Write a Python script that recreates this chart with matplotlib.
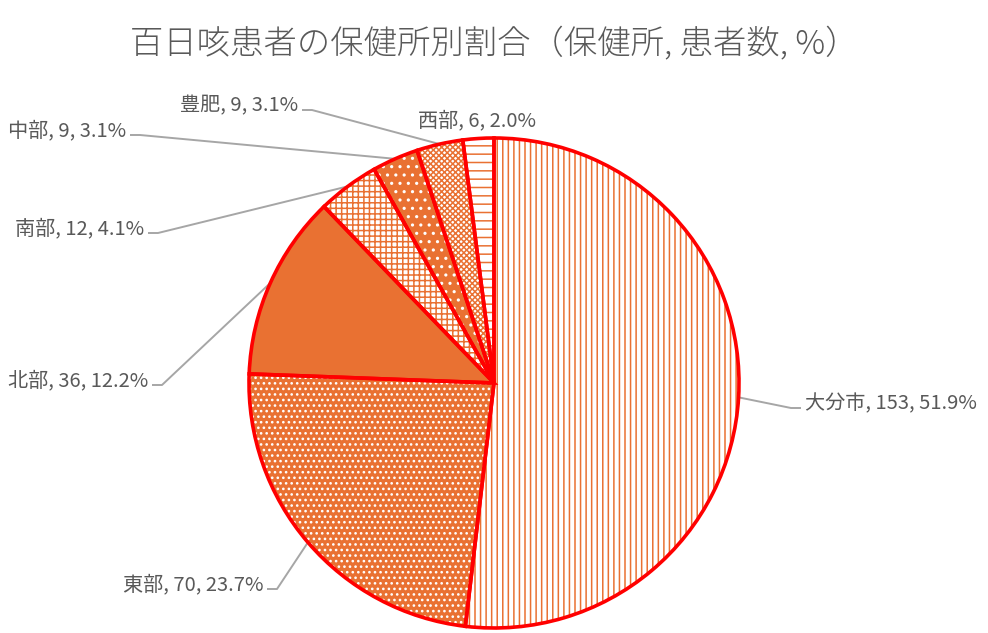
import matplotlib

matplotlib.use("Agg")
import matplotlib.pyplot as plt
import numpy as np

plt.rcParams["font.family"] = ["Noto Sans CJK JP", "DejaVu Sans"]
plt.rcParams["hatch.linewidth"] = 1.1

title = "百日咳患者の保健所別割合（保健所, 患者数, %）"
centers = ["大分市", "東部", "北部", "南部", "中部", "豊肥", "西部"]
counts = [153, 70, 36, 12, 9, 9, 6]

ORANGE = "#E97132"
RED = "#FF0000"
GRAY_TXT = "#595959"
GRAY_LINE = "#A6A6A6"

# fill colour, hatch colour, hatch pattern per slice
faces = ["white", ORANGE, ORANGE, "white", ORANGE, "white", "white"]
hatch_cols = [ORANGE, "white", ORANGE, ORANGE, "white", ORANGE, ORANGE]
hatches = ["|||", "...", "", "+++", "..", "xxxxxx", "--"]

# label anchor (pixel coords, y down), alignment, leader?
label_pos = [(805, 404), (263, 585), (148, 381), (144, 229), (126, 131), (298, 106), (477, 121)]
label_ha = ["left", "right", "right", "right", "right", "right", "center"]
has_leader = [True, True, True, True, True, True, False]

W, H = 988, 633
cx, cy, R = 494, H - 383, 245

fig = plt.figure(figsize=(W / 100, H / 100), dpi=100)
ax = fig.add_axes([0, 0, 1, 1])

wedges, _ = ax.pie(counts, startangle=90, counterclock=False, center=(cx, cy),
                   radius=R, colors=faces, wedgeprops=dict(linewidth=0))
for w, hc, hp in zip(wedges, hatch_cols, hatches):
    w.set_edgecolor(hc)
    w.set_hatch(hp)
    w.set_linewidth(0)

ax.pie(counts, startangle=90, counterclock=False, center=(cx, cy), radius=R,
       wedgeprops=dict(fill=False, edgecolor=RED, linewidth=2.6))

total = sum(counts)
cum = np.cumsum([0] + counts)
for i, (name, n) in enumerate(zip(centers, counts)):
    pct = n / total * 100
    tx, ty = label_pos[i]
    ty = H - ty
    ax.text(tx, ty, f"{name}, {n}, {pct:.1f}%", ha=label_ha[i], va="center",
            fontsize=14.5, color=GRAY_TXT)
    if has_leader[i]:
        mid = (cum[i] + cum[i + 1]) / 2 / total * 2 * np.pi
        sx = cx + R * np.sin(mid)
        sy = cy + R * np.cos(mid)
        if label_ha[i] == "left":
            ex = tx - 4
            elx = ex - 10
        else:
            ex = tx + 4
            elx = ex + 10
        ey = ty - 4
        ax.plot([sx, elx, ex], [sy, ey, ey], color=GRAY_LINE, lw=1.4,
                solid_capstyle="butt", zorder=0)

ax.text(W / 2, H - 45, title, ha="center", va="center", fontsize=24,
        fontweight=300, color=GRAY_TXT)

ax.set_xlim(0, W)
ax.set_ylim(0, H)
ax.set_aspect("auto")
ax.axis("off")

fig.savefig("out.png", dpi=100)
